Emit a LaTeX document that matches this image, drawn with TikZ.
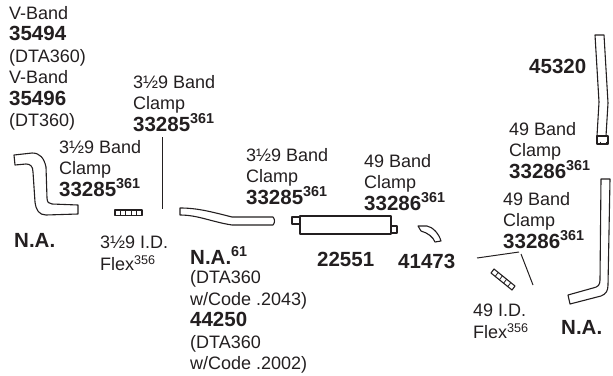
\documentclass[tikz,border=0pt]{standalone}
\usepackage{fontspec}
\setmainfont{Liberation Sans}
\usepackage{xcolor}
\usetikzlibrary{positioning, calc}
\definecolor{partink}{RGB}{35, 31, 32}
\newcommand{\partnum}[2]{{\fontsize{20.5}{21.5}\selectfont\bfseries #1\smash{\textsuperscript{#2}}}}
\newcommand{\partbig}[1]{{\fontsize{20.5}{21.5}\selectfont\bfseries #1}}
\tikzset{
  callout/.style={rectangle, anchor=north west, inner sep=0pt, align=left, text=partink,
                  font=\fontsize{18}{21.5}\selectfont},
  pipe/.style={draw=partink, fill=white, line width=1.1pt, line join=round},
  leader/.style={draw=partink, line width=1pt},
  flexrib/.style={draw=partink, line width=0.8pt},
}

\begin{document}
\begin{tikzpicture}[x=1pt, y=-1pt]
  \useasboundingbox (0,0) rectangle (613,375);

  \node[callout] (vband) at (9,6)
       {V-Band\\ \partbig{35494}\\ (DTA360)\\ V-Band\\ \partbig{35496}\\ (DT360)};
  \node[callout] (clampA) at (59,140) {3½9 Band\\ Clamp\\ \partnum{33285}{361}};
  \node[callout] (clampB) at (133,75) {3½9 Band\\ Clamp\\ \partnum{33285}{361}};
  \node[callout] (clampC) at (246,148) {3½9 Band\\ Clamp\\ \partnum{33285}{361}};
  \node[callout] (clampD) at (364,154) {49 Band\\ Clamp\\ \partnum{33286}{361}};
  \node[callout] (clampE) at (509,122) {49 Band\\ Clamp\\ \partnum{33286}{361}};
  \node[callout] (clampF) at (503,192) {49 Band\\ Clamp\\ \partnum{33286}{361}};
  \node[callout] (naLeft) at (14,233) {\partbig{N.A.}};
  \node[callout] (naRight) at (561,320) {\partbig{N.A.}};
  \node[callout] (flexA) at (100,236) {3½9 I.D.\\ Flex\textsuperscript{356}};
  \node[callout] (flexB) at (473,304) {49 I.D.\\ Flex\textsuperscript{356}};
  \node[callout] (tailpipe) at (190,250)
       {\partnum{N.A.}{61}\\[-2pt] (DTA360\\ w/Code .2043)\\ \partbig{44250}\\ (DTA360\\ w/Code .2002)};
  \node[callout] (muffler) at (317,252) {\partbig{22551}};
  \node[callout] (elbow) at (398,254) {\partbig{41473}};
  \node[callout] (stack) at (529,59) {\partbig{45320}};

  % exhaust pieces
  \draw[pipe] (14,155) -- (32,153) .. controls (40,153) and (44,158) .. (46,167)
        -- (47,198) .. controls (47,202) and (49,204) .. (52,204) -- (78,205) -- (78,214) -- (46,215)
        .. controls (39,215) and (36,210) .. (35,202) -- (33,172)
        .. controls (33,166) and (30,164) .. (26,164) -- (15,165) -- cycle;
  \draw[pipe] (180,208) .. controls (198,208) and (212,212) .. (232,217) -- (273,217)
        .. controls (275,219) and (275,223) .. (273,225) -- (232,225)
        .. controls (212,222) and (198,215) .. (180,215) -- cycle;
  \draw[pipe] (292,217) rectangle (300,224);
  \draw[pipe] (391,226) rectangle (397,233);
  \draw[pipe] (300,216) rectangle (391,234);
  \draw[pipe] (418,226) -- (427,226) .. controls (433,227) and (439,234) .. (441,241)
        -- (435,242) .. controls (433,237) and (428,233) .. (421,231) -- cycle;
  \draw[pipe] (595,35) -- (604,35) -- (608,103) -- (606,136) -- (597,136) -- (599,102) -- cycle;
  \draw[pipe] (597,136) rectangle (608,144);
  \draw[flexrib] (600,141.5) -- (600,143) (606,141.5) -- (606,143);
  \draw[pipe] (601,179) -- (610,179) -- (608,285) .. controls (608,291) and (606,294) .. (601,296)
        -- (570,304) -- (568,295) -- (593,288) .. controls (598,287) and (600,285) .. (600,280) -- cycle;

  % flex pieces
  \draw[pipe] (115,210) rectangle (142,215.5);
  \foreach \rib in {120.4,125.8,131.2,136.6}
    \draw[flexrib] (\rib,210) -- (\rib,215.5);
  \coordinate (flexBa) at (491,273);
  \coordinate (flexBb) at (494,269);
  \coordinate (flexBc) at (515,286);
  \coordinate (flexBd) at (512,290);
  \draw[pipe] (flexBa) -- (flexBb) -- (flexBc) -- (flexBd) -- cycle;
  \foreach \rib in {0.2,0.4,0.6,0.8}
    \draw[flexrib] ($(flexBa)!\rib!(flexBd)$) -- ($(flexBb)!\rib!(flexBc)$);

  % leaders
  \coordinate (leadA) at (162,137);
  \coordinate (leadAend) at (162,209);
  \coordinate (leadB) at (477,258);
  \coordinate (leadBend) at (519,252);
  \coordinate (leadC) at (521,254);
  \coordinate (leadCend) at (533,285);
  \draw[leader] (leadA) -- (leadAend);
  \draw[leader] (leadB) -- (leadBend);
  \draw[leader] (leadC) -- (leadCend);
\end{tikzpicture}
\end{document}
